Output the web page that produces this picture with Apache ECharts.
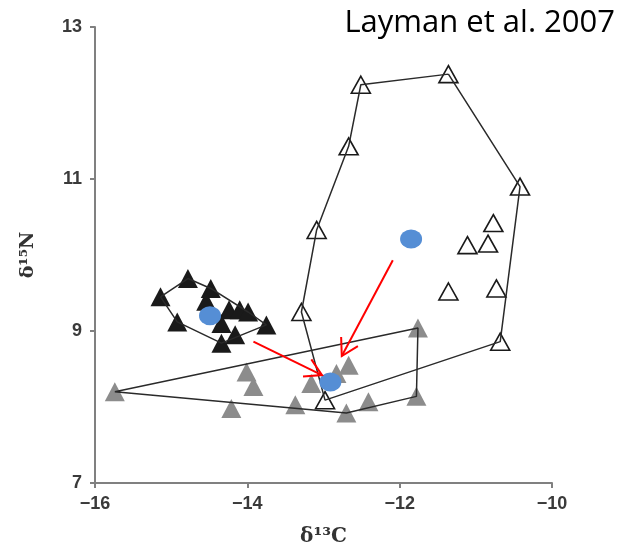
<!DOCTYPE html>
<html><head><meta charset="utf-8">
<script src="https://cdn.jsdelivr.net/npm/echarts@6/dist/echarts.min.js"></script>
<style>html,body{margin:0;padding:0;background:#fff}#c{width:632px;height:552px}</style>
</head><body><div id="c"></div><script>
// Open (white) triangles
const openX = [-11.36, -12.51, -12.67, -13.09, -10.42, -10.77, -11.11, -10.84, -11.36, -10.73, -13.29, -10.68, -12.98];
const openY = [12.38, 12.24, 11.43, 10.33, 10.90, 10.42, 10.13, 10.15, 9.52, 9.56, 9.25, 8.86, 8.09];
const openHull = [0, 1, 2, 3, 10, 12, 11, 4];
// Gray triangles
const grayX = [-15.74, -14.01, -13.92, -14.21, -13.37, -13.16, -12.83, -12.67, -12.70, -12.41, -11.76, -11.78];
const grayY = [8.20, 8.46, 8.27, 7.98, 8.03, 8.31, 8.44, 8.55, 7.92, 8.07, 9.04, 8.14];
const grayHull = [0, 10, 11, 8];
// Black triangles
const blackX = [-15.14, -14.78, -14.48, -14.54, -14.92, -14.24, -14.10, -13.99, -14.34, -13.75, -14.16, -14.34];
const blackY = [9.45, 9.69, 9.56, 9.39, 9.12, 9.28, 9.28, 9.25, 9.10, 9.08, 8.95, 8.84];
const blackHull = [0, 1, 2, 7, 9, 11, 4];
// Centroids (blue)
const centX = [-14.49, -11.85, -12.91];
const centY = [9.20, 10.21, 8.33];
// Arrows: start x, start y, end x, end y
const arrowStartX = [-13.92, -12.09];
const arrowStartY = [8.86, 9.93];
const arrowEndX = [-13.02, -12.76];
const arrowEndY = [8.42, 8.67];
// Axis ticks
const xTicks = [-16, -14, -12, -10];
const yTicks = [7, 9, 11, 13];

const pts = (xs, ys) => xs.map((x, i) => [x, ys[i]]);
const hull = (xs, ys, idx) => idx.concat([idx[0]]).map(i => [xs[i], ys[i]]);
const minus = v => String(v).replace('-', '\u2212');

const chart = echarts.init(document.getElementById('c'));
const triSize = [20, 19];
const hullStyle = { color: '#2a2a2a', width: 1.5 };

chart.setOption({
  animation: false,
  backgroundColor: '#fff',
  grid: { left: 95, right: 80, top: 27, bottom: 69 },
  xAxis: {
    type: 'value', min: xTicks[0], max: xTicks[xTicks.length - 1], interval: 2,
    splitLine: { show: false },
    axisLine: { lineStyle: { color: '#808080', width: 2 } },
    axisTick: { length: 5, lineStyle: { color: '#808080', width: 2 } },
    axisLabel: { formatter: minus, fontFamily: 'Liberation Sans', fontWeight: 'bold', fontSize: 18, color: '#3a3a3a', margin: 12 },
    name: 'δ¹³C', nameLocation: 'middle', nameGap: 44,
    nameTextStyle: { fontFamily: 'DejaVu Serif', fontWeight: 'bold', fontSize: 20, color: '#333' }
  },
  yAxis: {
    type: 'value', min: yTicks[0], max: yTicks[yTicks.length - 1], interval: 2,
    splitLine: { show: false },
    axisLine: { lineStyle: { color: '#808080', width: 2 } },
    axisTick: { length: 5, lineStyle: { color: '#808080', width: 2 } },
    axisLabel: { fontFamily: 'Liberation Sans', fontWeight: 'bold', fontSize: 18, color: '#3a3a3a', margin: 13 },
    name: 'δ¹⁵N', nameLocation: 'middle', nameGap: 57,
    nameTextStyle: { fontFamily: 'DejaVu Serif', fontWeight: 'bold', fontSize: 19, color: '#333' }
  },
  graphic: [{
    type: 'text', right: 17, top: 8,
    style: { text: 'Layman et al. 2007', fontFamily: 'Open Sans', fontSize: 31, fill: '#000' }
  }],
  series: [
    { type: 'scatter', symbol: 'triangle', symbolSize: triSize, data: pts(grayX, grayY),
      itemStyle: { color: '#8c8c8c', opacity: 1 }, z: 2 },
    { type: 'scatter', symbol: 'triangle', symbolSize: triSize, data: pts(blackX, blackY),
      itemStyle: { color: '#1a1a1a', opacity: 1 }, z: 2 },
    { type: 'scatter', symbol: 'triangle', symbolSize: [19, 17], data: pts(openX, openY),
      itemStyle: { color: '#fff', borderColor: '#1a1a1a', borderWidth: 1.6, opacity: 1 }, z: 2 },
    { type: 'line', data: hull(openX, openY, openHull), symbol: 'none', lineStyle: hullStyle, z: 3, silent: true },
    { type: 'line', data: hull(grayX, grayY, grayHull), symbol: 'none', lineStyle: hullStyle, z: 3, silent: true },
    { type: 'line', data: hull(blackX, blackY, blackHull), symbol: 'none', lineStyle: hullStyle, z: 3, silent: true },
    { type: 'scatter', symbol: 'circle', symbolSize: [22, 19], data: pts(centX, centY),
      itemStyle: { color: '#558ed5', opacity: 1 }, z: 4 },
    { type: 'custom', z: 5, silent: true,
      data: arrowStartX.map((x, i) => [x, arrowStartY[i], arrowEndX[i], arrowEndY[i]]),
      renderItem: function (params, api) {
        const p0 = api.coord([api.value(0), api.value(1)]);
        const p1 = api.coord([api.value(2), api.value(3)]);
        const ang = Math.atan2(p0[1] - p1[1], p0[0] - p1[0]);
        const L = 19, a = Math.PI / 6;
        const h1 = [p1[0] + L * Math.cos(ang + a), p1[1] + L * Math.sin(ang + a)];
        const h2 = [p1[0] + L * Math.cos(ang - a), p1[1] + L * Math.sin(ang - a)];
        const st = { stroke: '#ff0000', lineWidth: 2, fill: null };
        return { type: 'group', children: [
          { type: 'line', shape: { x1: p0[0], y1: p0[1], x2: p1[0], y2: p1[1] }, style: st },
          { type: 'polyline', shape: { points: [h1, p1, h2] }, style: st }
        ] };
      }
    }
  ]
});
</script></body></html>
